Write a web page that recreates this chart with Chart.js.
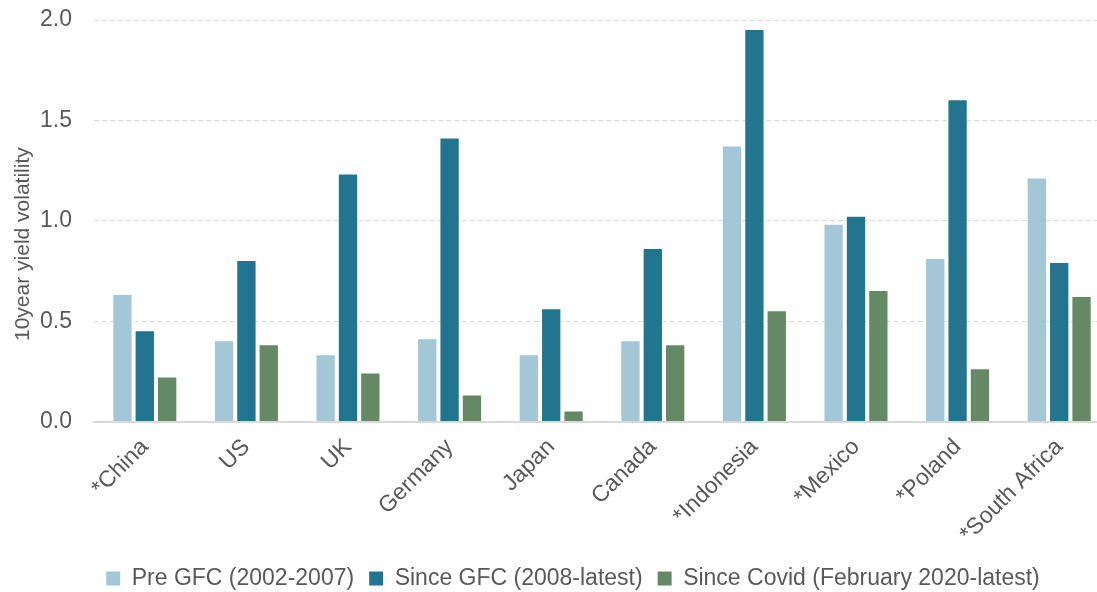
<!DOCTYPE html>
<html>
<head>
<meta charset="UTF-8">
<title>10year yield volatility</title>
<script src="https://cdn.jsdelivr.net/npm/chart.js"></script>
<style>
  html, body { margin: 0; padding: 0; background: #fff; overflow: hidden; }
  #wrap { width: 1097px; height: 592px; overflow: hidden; }
</style>
</head>
<body>
<div id="wrap"><canvas id="volChart" width="1146" height="604"></canvas></div>
<script>
// categories and series
const countries = ['*China', 'US', 'UK', 'Germany', 'Japan', 'Canada', '*Indonesia', '*Mexico', '*Poland', '*South Africa'];
const preGFC = [0.63, 0.40, 0.33, 0.41, 0.33, 0.40, 1.37, 0.98, 0.81, 1.21];
const sinceGFC = [0.45, 0.80, 1.23, 1.41, 0.56, 0.86, 1.95, 1.02, 1.60, 0.79];
const sinceCovid = [0.22, 0.38, 0.24, 0.13, 0.05, 0.38, 0.55, 0.65, 0.26, 0.62];
const yTicks = [0, 0.5, 1.0, 1.5, 2.0];

const textColor = '#595959';
const font = 'Arial, "Liberation Sans", sans-serif';

const ctx = document.getElementById('volChart').getContext('2d');
new Chart(ctx, {
  type: 'bar',
  data: {
    labels: countries,
    datasets: [
      { label: 'Pre GFC (2002-2007)', data: preGFC, backgroundColor: '#a3c7d6' },
      { label: 'Since GFC (2008-latest)', data: sinceGFC, backgroundColor: '#23758f' },
      { label: 'Since Covid (February 2020-latest)', data: sinceCovid, backgroundColor: '#668965' }
    ]
  },
  options: {
    responsive: false,
    animation: false,
    datasets: {
      bar: { categoryPercentage: 0.66, barPercentage: 0.82 }
    },
    layout: { padding: { top: 20, right: 0, left: 0, bottom: 4 } },
    plugins: {
      legend: {
        position: 'bottom',
        labels: {
          color: textColor,
          font: { family: font, size: 23 },
          boxWidth: 14,
          boxHeight: 14,
          padding: 15
        }
      },
      tooltip: { enabled: false }
    },
    scales: {
      x: {
        grid: { display: false },
        border: { color: '#d9d9d9', width: 2 },
        ticks: {
          color: textColor,
          font: { family: font, size: 23 },
          minRotation: 45,
          maxRotation: 45,
          padding: 4
        }
      },
      y: {
        min: 0,
        max: 2.0,
        afterFit: s => { s.width = 94; s.paddingTop = 0; s.paddingBottom = 0; },
        afterBuildTicks: s => { s.ticks = yTicks.map(v => ({ value: v })); },
        border: { display: false, dash: [5, 3] },
        grid: {
          color: '#d9d9d9',
          drawTicks: false,
          lineWidth: 1
        },
        ticks: {
          color: textColor,
          font: { family: font, size: 23 },
          padding: 22,
          callback: v => v.toFixed(1)
        },
        title: {
          display: true,
          // trailing spaces push the title a little below the axis middle, as in the original
          text: '10year yield volatility\u00a0\u00a0\u00a0\u00a0\u00a0\u00a0\u00a0\u00a0',
          color: textColor,
          font: { family: font, size: 21 },
          padding: { top: 11, bottom: 0 }
        }
      },
      // empty right-side axis so the plot runs past the picture's right edge
      yRight: {
        position: 'right',
        display: true,
        afterFit: s => { s.width = 36; s.paddingTop = 0; s.paddingBottom = 0; },
        grid: { display: false },
        border: { display: false },
        ticks: { display: false }
      }
    }
  }
});
</script>
</body>
</html>
